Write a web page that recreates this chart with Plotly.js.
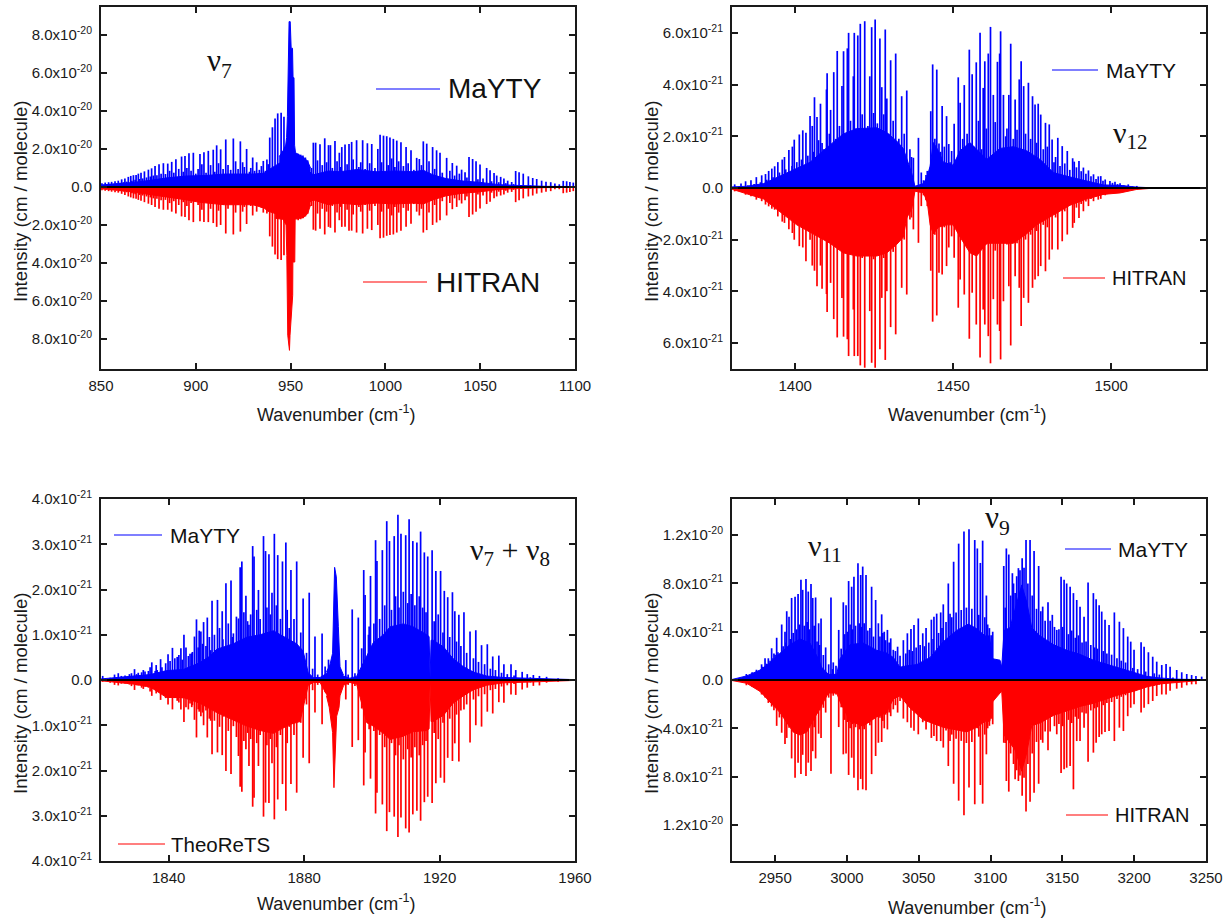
<!DOCTYPE html>
<html>
<head>
<meta charset="utf-8">
<script src="https://cdn.plot.ly/plotly-3.0.1.min.js"></script>
<style>body{margin:0;background:#fff}</style>
</head>
<body>
<div id="graph" style="width:1230px;height:919px"></div>
<script>
// nu7 band, intensities in 1e-20 cm/molecule
var nu7X = [850.5,852.2,854,855.6,857.4,859.1,860.9,862.6,864.4,865.7,
  867.1,868.5,869.7,871.1,872.9,875,876.7,878.5,880.6,882.9,
  885.2,887.3,889.5,892.5,894.3,896.4,898.7,902.2,904.3,906.6,
  909.2,911,913.1,915.8,919.8,923.5,926.8,930,932.1,935.6,
  937.5,939,940.4,941.8,943.2,945,946.5,
  962,963.2,965.5,968,970,971,973.4,975.7,
  977,978.7,980.8,982.2,984.8,988,990.5,992.8,996,997.2,
  999,1000.7,1002.4,1004.2,1006,1008.2,1010.9,1013.5,1016.5,1017.9,
  1020,1021.8,1024.9,1027,1028.8,1032.3,1035.3,1037.6,1040.2,1042,
  1044.1,1046,1047.8,1049.9,1053.4,1055.2,1057.3,1058.7,1060.8,1062.5,
  1064.5,1066.6,1068.7,1070.5,1072.7,1075.4,1077.7,1079.8,1082.4,1084.7,
  1087.2,1089.4,1091.7,1093.8,1095.6,1097.3,1099.1];
var nu7Mayty = [.2,.23,.25,.27,.3,.33,.4,.45,.53,.58,
  .62,.63,.7,.75,.82,.91,.98,1.1,1.2,1.25,
  1.23,1.32,1.46,1.6,1.63,1.77,1.8,1.74,1.82,1.9,
  1.96,2.19,1.98,2.5,2.55,2.4,2.0,1.55,1.3,1.37,
  1.45,2.6,3.14,3.6,3.87,3.9,3.7,
  2.33,2.33,2.25,2.56,2.2,2.2,2.42,1.8,
  2.1,2.23,2.26,2.37,2.46,2.46,2.3,2.26,2.0,2.75,
  2.7,2.67,2.6,2.53,2.44,2.35,2.1,1.93,1.53,1.47,
  2.4,2.28,2.1,1.93,1.8,1.53,1.26,1.12,.91,.77,
  1.58,1.47,1.35,1.18,1,.88,.74,.6,.53,.44,
  .33,.26,.84,.77,.7,.56,.47,.42,.33,.28,
  .25,.18,.14,.32,.3,.26,.23];
var nu7Hitran = [.17,.2,.22,.25,.28,.3,.36,.42,.5,.55,
  .6,.62,.68,.72,.8,.88,.95,1.05,1.15,1.2,
  1.2,1.3,1.4,1.55,1.58,1.75,1.85,1.8,1.85,1.85,
  1.9,2.1,2.0,2.45,2.5,2.35,1.95,1.5,1.3,1.35,
  1.4,2.6,3.14,3.55,3.8,3.84,3.6,
  2.25,2.3,2.2,2.5,2.1,2.15,2.4,1.75,
  2.1,2.1,2.3,2.3,2.4,2.45,2.2,2.27,2,2.7,
  2.67,2.57,2.53,2.5,2.4,2.3,2.1,1.93,1.3,1.5,
  2.4,2.27,2,1.87,1.75,1.5,1.17,1.05,.87,.7,
  1.58,1.45,1.3,1.13,.9,.78,.6,.5,.45,.4,
  .3,.26,.8,.7,.6,.5,.45,.35,.3,.25,
  .22,.12,.12,.33,.3,.26,.22];
var nu7TeethX = [851.5,853,854.8,856.5,858.3,860,861.8,863.5,866.3,868,
  870.3,872,874,876,877.6,879.5,881.7,884,886.2,888.4,
  891,893.4,895.3,897.5,900,901.2,903.2,905.4,907.8,910,
  912,914.4,917,918.4,921,922.3,924.7,925.6,928.3,929,
  931,933.5,934.6,936.7,938.2,
  954,955.3,956.5,957.8,959,961,964.2,966.7,969,972,
  974.5,976.4,979.8,983,986,987,989.3,991.7,994.5,998,
  1001.5,1003.3,1005,1007,1009.5,1012,1015,1019,1023,1026,
  1030,1034,1036.5,1039,1043,1048.8,1051.5,1056,1059.8,1063.5,
  1067.6,1071.6,1076.5,1081];
var nu7Teeth = [.13,.15,.17,.18,.2,.22,.25,.28,.33,.38,
  .42,.45,.5,.55,.6,.62,.7,.68,.85,.75,
  .95,.8,1,.85,.7,.95,1.2,.75,1.15,.8,
  1.25,.95,1.15,.9,1.35,.95,1.3,1.05,.8,1.0,
  .85,.9,1.1,.85,1.2,
  1.75,1.7,1.65,1.55,1.4,1.0,1.4,1.15,1.3,1.0,
  1.35,1.05,1.2,1.45,1.05,1.3,.95,1.25,1.0,1.3,
  1.15,1.5,1.05,1.35,1.1,1.25,.9,1.15,1.35,.95,
  .75,.85,.6,.7,.5,.4,.45,.3,.25,.2,
  .15,.1,.08,.05];
var nu7BulkUpX = [850,860,867,875,885,895,905,915,925,930,936,938,942,946,960,962,970,976,985,995,1005,1015,1020,1025,1032,1040,1050,1060,1070,1085,1100];
var nu7BulkUp = [.12,.2,.3,.42,.6,.72,.75,.85,.85,.85,.9,1.1,1.4,1.7,1,.8,1.05,1,1.15,1,1.05,1,1.1,.8,.55,.4,.3,.15,.1,.04,.03];
var nu7BulkDownX = [850,860,867,875,885,895,902,915,925,930,936,938,942,946,960,962,970,976,985,995,1005,1015,1020,1025,1032,1040,1050,1060,1070,1085,1100];
var nu7BulkDown = [.1,.2,.32,.45,.65,.8,.95,1.1,1.1,1.1,1.3,1.5,1.65,1.7,.95,.8,1.1,1,1.1,1,1.05,1,1.05,.8,.55,.4,.3,.15,.1,.04,.03];
// Q branch of nu7
var nu7QUpX = [944,946,947.4,947.9,948.3,948.8,949.2,949.8,950.3,951,951.3,951.8,952.1,952.6,955,957,959,960.5];
var nu7QUp = [1.6,1.9,2.2,2.6,3.7,7.7,8.7,8.7,7.3,7.3,5.75,5.75,2.2,1.8,1.65,1.55,1.35,1];
var nu7QDownX = [942,946,947.6,948,948.5,949,949.4,949.7,951.1,951.2,952.2,952.4,955,957,959,960.5];
var nu7QDown = [1.65,1.7,2,3.6,7.8,8.2,8.6,7.8,5.7,3.95,3.95,1.7,1.65,1.6,1.4,.95];

// nu12 band, intensities in 1e-21 cm/molecule
var nu12X = [1380.85,1382.85,1384.3,1386,1387.7,1389.4,1390.6,1391.6,1392.6,1393.5,
  1394.5,1395.9,1396.6,1398,1399.1,1399.7,1401.3,1402.4,1403.4,1404.7,
  1405.4,1406.1,1406.9,1408,1408.5,1409.9,1410.1,1411.2,1412.2,1413.3,
  1414.8,1415.3,1416.5,1416.9,1418.4,1418.7,1419.8,1420.6,1422,1423.6,
  1424.2,1425.3,1426.8,1427.4,1428.5,1429,1430.2,1431.8,1433.7,1435.3,
  1436.3,1437.4,1439,1439.9,1441.8,1442.9,1443.5,1444.8,1445.5,1446.5,
  1447.9,1448.6,1449.5,1450.3,1451.6,1452.2,1453.5,1455.1,1456,1457.3,
  1458.5,1459.5,1460,1461.1,1461.8,1462.7,1464,1464.7,1465,1465.9,
  1467.6,1468.2,1469.6,1470.9,1471.5,1472.3,1473.8,1475.1,1475.9,1476.9,
  1477.7,1479.2,1480.4,1481.3,1483.1,1484.5,1486.1,1487.8,1488.3,1489.8,
  1491.2,1492.8,1494.4,1495.9,1496.7,1498.1,1499.6,1501.2,1502.8,1505.4,
  1508.1,1511.2];
var nu12Mayty = [.14,.17,.26,.3,.42,.49,.54,.66,.75,.84,
  1,1.1,1.2,1.47,1.6,1.87,2.07,2.23,2.14,2.78,
  2.4,3.51,2.75,3.26,1.74,3.81,4.44,3.02,4.48,5.3,
  3.94,5.29,5.4,6,4.32,6,5.9,6.35,6.45,4.32,
  6.22,6.52,5.78,3.9,6.13,3.46,4.94,5.2,3.55,3.77,
  1.5,1.17,1.94,.6,.66,2.97,4.78,4.58,1.72,3.17,
  2.78,1.7,1.43,2.48,4.28,3.3,3.98,5.35,4.4,4.86,
  6,3.87,4.9,5.2,6.23,3.6,4.88,5.2,6.06,3.6,
  3.6,5.58,3.42,4.2,4.9,3.94,4.07,3.55,3.23,3.26,
  2.84,2.52,2.46,1.88,1.94,1.62,1.43,1.15,1.02,1.04,
  .79,.68,.53,.45,.46,.33,.27,.24,.18,.14,
  .08,.04];
var nu12Hitran = [.13,.15,.26,.32,.45,.51,.64,.71,.8,.84,
  1.1,1.3,1.35,1.6,1.74,2,2.25,2.3,2.83,2,
  3,3.2,3.8,3,3.9,4.1,4.8,3.67,5.07,5.78,
  4.25,5.75,5.85,6.5,4.7,6.5,6.5,6.86,6.95,4.76,
  6.76,6.95,6.24,4.25,6.65,3.99,5.38,5.66,3.86,4.12,
  1.22,1.6,2.12,.7,.7,3.2,5.17,4.93,3.28,3.35,
  3.02,2.3,1.87,2.7,4.63,3.54,4.12,5.83,4.05,5.28,
  6.56,4.7,5.28,5.73,6.78,4.3,5.28,5.53,6.63,4.38,
  3.8,6.09,3.41,3.86,5.34,4.25,4.44,3.86,3.54,3.41,
  3.02,3.22,2.77,2.38,2.38,2.06,1.8,1.54,1.35,1.16,
  .9,.7,.51,.45,.42,.28,.19,.17,.13,.09,
  .06,.03];
var nu12TeethX = [1385,1387,1389,1391,1393,1395,1397,1399,1400.5,1402,
  1404,1405.8,1407.4,1409,1410.8,1412.8,1414,1415.8,1417.5,1419.2,
  1421.2,1423,1424.8,1426,1428,1429.6,1431,1432.8,1434.5,1436.8,
  1440.6,1441.4,1443,1444.2,1446,1447.2,1449,1451,1453,1454.4,
  1456.6,1458,1459,1460.5,1463.3,1466.6,1467,1469,1470.2,1472.9,
  1474.5,1476.4,1478.5,1479.8,1481.9,1482.4,1483.8,1485.3,1486.9,1489,
  1490.5,1492,1493.6,1495.2,1497.4,1500.4,1502,1504,1506.7];
var nu12Teeth = [.1,.15,.22,.32,.42,.6,.72,.85,1.0,1.1,
  1.25,1.4,1.85,1.5,2.1,1.9,2.4,2.0,2.6,2.3,
  2.85,2.4,2.9,2.5,2.85,2.1,2.6,1.9,2.1,1.2,
  .3,.5,1.1,1.9,1.4,1.6,1.0,1.1,1.9,2.1,
  1.6,2.6,1.5,2.3,2.55,2.0,2.3,1.9,2.25,2.1,
  1.9,1.75,1.5,1.6,1.0,1.2,.85,.95,.7,.8,
  .65,.55,.45,.35,.28,.2,.15,.1,.07];
var nu12BulkUpX = [1380,1384.6,1390,1395.2,1400.5,1404.7,1408.9,1412,1415.2,1419.5,1425.8,1429,1432.1,1434.2,1435.3,1436.9,1437.9,1439,1440.6,1441.8,1442.7,1443.7,1445.3,1446.9,1450,1452.2,1455.3,1460.6,1464.8,1469,1473.2,1477.5,1481.7,1487,1492.2,1497.5,1502.8,1508,1513,1530];
var nu12BulkUp = [.05,.08,.2,.53,.9,1.17,1.7,2.07,2.46,2.7,2.74,2.52,2.14,1.8,1.3,.66,.08,.12,.2,.53,1,2.07,1.7,1.17,1.04,1.7,2.07,1.3,1.8,1.88,1.7,1.3,.7,.5,.33,.14,.12,.04,.01,0];
var nu12BulkDownX = [1380,1390,1395.2,1400.5,1405.7,1411,1415.2,1419.5,1425.8,1429,1432.1,1434.2,1435.3,1436.9,1437.9,1440.6,1441.8,1442.7,1443.7,1445.3,1447.9,1450,1452.2,1455.3,1457.4,1460.6,1469,1473.2,1476.4,1481.7,1487,1492.2,1497.5,1502.8,1508,1513,1530];
var nu12BulkDown = [.05,.45,.97,1.5,1.87,2.25,2.64,2.77,2.77,2.64,2.3,2,1.22,.84,.13,.2,.58,1.5,1.87,1.6,1.5,1.5,2,2.64,2.77,2.25,2.25,1.87,1.5,1.1,.7,.45,.26,.2,.06,.01,0];

// nu7+nu8 band, intensities in 1e-21 cm/molecule
var combX = [1820.5,1822.7,1825.1,1827.1,1828.4,1829.9,1831,1832,1833,1834,
  1835,1836,1836.6,1837.6,1838.4,1839.1,1839.8,1841.1,1841.8,1842.5,
  1843.6,1844.5,1845.1,1845.8,1846.8,1847.6,1848.2,1849,1849.5,1850.3,
  1851.4,1852.4,1852.8,1854.4,1855.8,1856.9,1858.4,1859.1,1860.6,1861.1,
  1861.6,1862.8,1863.7,1864.8,1865.2,1866.5,1868,1868.6,1869.6,1870.5,
  1871.2,1872.2,1873.6,1874.6,1876.1,1877.8,1879.7,1881.5,1883.2,1885.3,
  1892.3,1894.2,1896,1897.6,1898,1899.2,1899.6,1901.1,1901.5,1903.1,
  1904.4,1905.2,1906.6,1907.7,1908.6,1910,1911,1912.1,1913.3,1914.4,
  1915.5,1916.5,1917.8,1918.9,1920.3,1921.4,1922.4,1923.8,1924.5,1925.7,
  1927.2,1929,1930.7,1932.4,1934.1,1935.7,1937.5,1939,1941.1,1942.5,
  1944.4,1945.9,1947.7,1949.5,1951.6,1955];
var combMayty = [.09,.05,.15,.1,.13,.24,.16,.17,.19,.2,
  .39,.2,.22,.46,.15,.37,.57,.71,.48,.51,
  .7,1,.72,.53,.59,.96,1.34,1.09,1.07,1.28,
  1.38,.66,1.75,1.77,1.52,2.14,2.2,1.03,1.36,2.49,
  2.62,1.86,1.22,2.96,2.73,1.99,3.18,2.85,2.78,1.93,
  3.23,2.76,2.62,3.04,2.43,2.62,1.8,1.93,.96,1.03,
  .44,1.56,1.38,2.43,1.88,1.18,2.3,3.09,2.63,2.87,
  3.51,3.07,3.18,3.65,3.23,3.2,3.55,3.07,3.04,3.28,
  2.82,2.73,2.87,2.41,2.41,1.97,1.83,1.94,1.52,1.44,
  1.5,1.07,1.1,.77,.79,.52,.54,.35,.35,.22,
  .18,.13,.11,.09,.07,.04];
var combTheoreTS = [.04,.06,.12,.08,.1,.22,.12,.17,.15,.17,
  .35,.2,.24,.44,.3,.4,.54,.65,.4,.46,
  .65,.93,.6,.65,.6,.88,1.27,.7,.8,1,
  1.27,.9,1.64,1.6,1.66,2.01,2.08,1.02,1.68,2.36,
  2.47,1.53,1.9,2.8,2.6,1.9,3.02,2.71,2.72,1.84,
  3.08,2.64,2.3,2.89,2.3,2.49,1.72,1.84,.72,.98,
  .43,1.48,1.33,2.33,1.6,1.09,2.18,2.95,2.49,2.75,
  3.34,2.92,3.02,3.47,3.04,3.28,3.37,2.97,2.89,3.11,
  2.7,2.58,2.72,2.28,2.16,2.27,1.72,1.79,1.4,1.8,
  .65,1.38,1,1.03,.7,.74,.49,.5,.32,.33,
  .21,.17,.13,.12,.06,.04];
var combTeethX = [1824,1826,1829,1830.5,1832.5,1834.5,1836.3,1838,1840.4,1843,
  1844,1846.3,1847,1848.7,1850,1851,1852,1853.5,1855,1856,
  1857.6,1858.8,1860,1862.2,1863.3,1864.2,1866,1867,1869,1870,
  1871.8,1873,1875,1875.6,1877,1879,1880.7,1882.5,1884,1886.2,
  1887.2,1891,1893,1895,1897,1899,1900.6,1902.3,1903.8,1905.8,
  1907,1908,1909.3,1910.6,1911.6,1912.7,1914,1915,1916,1918.4,
  1919.6,1921,1923,1925,1926.3,1928,1930,1931.5,1933.3,1935,
  1936.5,1938.3,1940,1942,1946.8];
var combTeeth = [.12,.09,.15,.13,.22,.28,.33,.28,.42,.55,
  .45,.58,.62,.72,.8,.75,.95,1,1.15,.9,
  1.25,.95,1.4,1.5,1.3,1.45,1.55,1.35,1.6,1.45,
  1.65,1.35,1.55,1.15,1.35,1.05,.6,.25,.12,.3,
  .45,.18,.12,.15,.7,1.0,1.25,1.35,1.65,1.55,
  1.85,1.6,1.95,1.7,1.9,1.65,1.85,1.6,1.5,1.3,
  1.45,1.05,.95,.85,.75,.6,.48,.4,.35,.25,
  .22,.16,.13,.1,.06];
var combBulkUpX = [1820,1824.6,1829.5,1834.5,1839.4,1844.3,1849.2,1852.2,1854.2,1859.1,1863,1867,1870.9,1875.8,1877.8,1879.7,1881.2,1882.7,1884.7,1886.6,1891.6,1893.5,1895.5,1898.5,1900.4,1903.4,1905.4,1909.3,1912.2,1916.2,1916.9,1917.2,1917.5,1918.1,1921.1,1924,1927,1930,1933.9,1938.8,1946.7,1956.5,1960];
var combBulkUp = [.03,.07,.11,.15,.26,.29,.48,.66,.85,1,1.18,1.25,1.36,1.1,1,.8,.2,.07,.07,.18,.11,.05,.1,.66,1.03,1.25,1.47,1.55,1.47,1.25,1.2,.07,1.1,1.1,.92,.59,.37,.22,.11,.07,.04,.02,.01];
var combBulkDownX = [1820,1829.5,1834.5,1839.4,1844.3,1849.2,1854.2,1859.1,1863,1867,1870.9,1875.8,1878.8,1881.2,1882.7,1884.7,1886.6,1891.6,1893.5,1895.5,1898.5,1900.4,1903.4,1905.4,1909.3,1912.2,1916.2,1916.9,1917.2,1917.5,1918.1,1921.1,1924,1927,1930,1933.9,1938.8,1946.7,1956.5,1960];
var combBulkDown = [.02,.1,.17,.43,.43,.57,.8,.98,1.13,1.24,1.31,1.09,1.02,.13,.06,.06,.35,.13,.06,.1,1.05,1.13,1.31,1.46,1.38,1.27,1.24,1.2,.1,1.02,1.02,.87,.57,.39,.24,.13,.07,.05,.02,.01];
// Q branch of nu7+nu8
var combQUpX = [1886.6,1887.6,1888.4,1888.8,1889,1889.5,1889.8,1890.1,1890.6,1891.6];
var combQUp = [.18,.33,.59,1.8,2.49,2.28,1.47,1.18,.29,.11];
var combQDownX = [1886.6,1887.4,1888.4,1888.8,1889.6,1890.3,1890.6,1891.6];
var combQDown = [.35,.6,1.16,2.38,.8,.61,.35,.13];

// nu11 / nu9 bands, intensities in 1e-21 cm/molecule
var ch3X = [2940.6,2943,2945.3,2947.6,2949.2,2951.1,2953,2954.6,2956.9,2958.1,
  2959.7,2961.5,2963.9,2966,2968,2969.2,2971.5,2973.1,2975,2976.2,
  2978.2,2980.3,2982,2983.6,2985.2,2987.3,2988.9,2990.5,2992.4,2994.3,
  2997.5,2999.4,3001.2,3003.3,3004.9,3007.7,3009.6,3011,3013.3,3017.2,
  3020,3021.9,3024.2,3026,3028.2,3030.5,3032.3,3035.3,3039.3,3042.1,
  3044.6,3046.7,3049.7,3052.8,3055.1,3058.8,3060.6,3062.5,3065.3,3067.1,
  3070.6,3071.8,3074.3,3077.8,3081.5,3085,3089,3090.8,3092.9,3094.5,
  3097.1,3099.2,3101.5,3109.2,3111,3112.7,3115.2,3117.1,3119.4,3122,
  3124.7,3127.5,3130.3,3133.5,3136.3,3140,3143,3146.1,3149.1,3151.2,
  3153,3155.4,3157.7,3160,3162.3,3165.1,3167.9,3171.6,3173.5,3175.6,
  3177.4,3179.7,3182.5,3186.2,3189.7,3192.5,3195.5,3197.6,3199.9,3204.8,
  3206.9,3209.9,3212.9,3215.7,3219.2,3222.2,3225,3229.6,3233.1,3236.6,
  3240,3243,3247];
var ch3Mayty = [1.3,1.8,1.8,2.63,2.2,3.5,1.8,4.6,4,5.7,
  5.25,6.8,6.9,7.13,8.3,7.47,8.38,7.33,7.95,6.8,
  6.84,4.7,5.1,2.07,2.7,1.3,6.84,1.46,1.18,4.15,
  6.44,6.2,8.2,7.73,8.56,9.67,8.7,9.4,8.7,7.73,
  6.63,4.7,5.44,4,4.15,3.45,2.5,2.76,3.3,3.87,
  4.23,4.56,5.1,3.87,4.3,5,5.25,5.5,5.6,6.27,
  8,5.5,9.8,11.3,12.3,12.5,11.6,10.9,9.7,11.55,
  7,4.3,4,9.45,10.9,10.4,8.85,7.2,9.27,10.1,
  11.6,11.6,10.7,9.45,6.08,6.44,5.4,4.15,8.56,8.3,
  8,7.73,7.2,6.63,6.08,5.25,8.07,7.2,6.7,6.2,
  5.67,5,4.56,5.6,4.83,4.3,3.6,3.18,2.5,3.12,
  2.76,2.3,1.93,1.52,1.24,1.33,1.1,.83,.64,.5,
  .41,.33,.28];
var ch3Hitran = [1.2,1.46,1.9,2.2,2.5,3.8,3.1,4.37,5.3,4.8,
  3.95,6.5,8.1,6.85,7.8,6.2,7.95,6.85,7.54,5.9,
  6.5,4.45,4.8,2.3,2.7,1.46,7.76,1.3,1.2,3.9,
  6.16,6.1,7.87,6.44,8.1,9.14,8.2,9.06,9.14,7.8,
  6.3,5.2,5.14,4,4.1,3,2.43,2.7,3.2,3.5,
  3.95,4.2,4.5,3.5,4.1,4.8,4.64,5.06,5.06,5.6,
  7.13,5.06,8.6,10,11.2,8.9,10.3,4,8.7,10.25,
  6.16,3.8,3.67,5.2,8.37,9.25,4.8,8.23,8.37,9.6,
  10.9,10.1,9.34,8.6,5.2,5.83,3,4.5,7.7,7.4,
  7.27,7.13,9.06,5.06,5.06,3.95,6.77,6.02,5.2,4.72,
  4.5,4.3,4.23,5.06,3.95,4.23,3,2.3,2,2.7,
  2.3,2,1.74,1.33,1.2,1.2,.9,.72,.64,.44,
  .36,.36,0];
var ch3TeethX = [2930,2934,2937,2941.5,2944,2946.5,2948.5,2950,2952,2955.6,
  2957.6,2960.5,2962.6,2965,2967,2970.3,2972.3,2974,2977.2,2979.2,
  2981,2990,2996,2998.5,3000.3,3002.2,3004,3006,3008.6,3010.3,
  3012,3014.5,3016,3018.5,3023,3025,3027,3029.4,3033.8,3037,
  3041,3043.4,3045.6,3048.2,3051,3054,3057,3060,3063.8,3066.2,
  3069,3073,3076,3079.6,3083.2,3087,3091.8,3096,3098,3100.4,
  3110.2,3114,3116,3118.2,3120.5,3123.3,3126,3129,3132,3135,
  3138,3141.5,3144.5,3147.6,3150.2,3154.2,3156.5,3159,3161.2,3163.7,
  3166.5,3169.8,3172.5,3174.5,3178.5,3181,3184.3,3188,3191,3194,
  3199,3202.4,3208,3214,3217.5,3227];
var ch3Teeth = [.5,.65,.85,1.1,1.35,1.6,1.8,2.1,2.3,2.8,
  3.1,3.4,3.9,4.2,4.6,4.5,4.8,4.2,4.5,3.2,
  2.9,.9,2.6,3.8,4,4.6,4.2,4.5,4.7,4.4,
  4.7,4.1,4.3,3.6,3.6,3.9,3.3,3.1,2.4,2.0,
  2.2,2.5,2.4,2.7,2.9,2.8,3.1,3.4,3.9,4.3,
  4.8,5.2,5.6,5.8,6,5.9,5.4,5.2,4.6,3.7,
  6,7,8,8.6,9.1,9.3,8,7,5.9,5.7,
  4.9,4.9,4.4,4.2,4.4,3.8,4.1,3.5,3.7,3.1,
  3.2,2.9,2.7,2.6,2.4,2.2,2.1,1.8,1.6,1.45,
  1,.9,.7,.55,.45,.2];
var ch3BulkUpX = [2920,2930.2,2939.5,2946.4,2953.4,2960.4,2967.3,2974.3,2980.1,2982.4,2987.1,2992.9,2995.2,3002.2,3011.4,3020.7,3027.7,3032.3,3037,3041.6,3048.6,3057.9,3067.1,3076.4,3084.6,3090.4,3096.2,3099.2,3101.5,3106.6,3107.8,3109.4,3113.6,3117.1,3121.7,3125.2,3128.7,3134.5,3143.8,3153,3162.3,3171.6,3180.9,3190.2,3199.5,3208.7,3218,3229.6,3250];
var ch3BulkUp = [.05,.4,.97,1.66,2.6,3.45,4,3.6,2.07,1.25,.55,.55,2.07,3.45,3.6,2.9,2.63,2.2,1.25,1.38,1.5,2.2,3.73,4.83,5.45,5,4.3,4.3,2.07,1.93,1.25,4.83,5.1,7,9.27,7.6,5.1,4.3,3.45,2.9,2.5,1.93,1.52,1.1,.7,.36,.2,.08,.03];
var ch3BulkDownX = [2920,2930.2,2939.5,2946.4,2953.4,2962.7,2967.3,2972,2980.1,2983.6,2987.1,2992.9,2995.2,3002.2,3011.4,3020.7,3027.7,3032.3,3037,3043.9,3053.2,3067.1,3076.4,3083.4,3090.4,3096.2,3099.5,3101.5,3106.6,3107.8,3109.4,3117.1,3121.7,3125.2,3128.7,3134.5,3143.8,3153,3162.3,3171.6,3180.9,3190.2,3199.5,3208.7,3218,3229.6,3243];
var ch3BulkDown = [.05,.3,1.05,2,3,4.8,5.06,4.8,2.85,2,1.2,1.2,2,3.8,4.23,3.4,3,1.74,1.46,2.57,3.67,4.36,4.64,4.78,4.36,3.8,3.8,2,1.2,1.05,5.06,6.44,8.4,6.7,4.2,3.95,3.26,2.85,2.43,2.15,1.74,1.33,1.05,.64,.36,.22,.08];

var blue = 'rgb(0,0,255)', red = 'rgb(255,0,0)', ink = '#1a1a1a';
var sans = 'Liberation Sans, Arial, sans-serif', serif = 'Liberation Serif, Times New Roman, serif';
var W = 1230, H = 919;

function scaled(y, f) {
  return y.map(function(v) { return v * f; });
}
function sticks(x, y, sign, color, n, w) {
  var xs = [], ys = [];
  for (var i = 0; i < x.length; i++) {
    xs.push(x[i], x[i], null);
    ys.push(0, sign * y[i], null);
  }
  return {x: xs, y: ys, mode: 'lines', type: 'scatter', line: {color: color, width: w || 1.7},
    hoverinfo: 'skip', showlegend: false, xaxis: 'x' + n, yaxis: 'y' + n};
}
function bulk(x, y, sign, color, n) {
  return {x: x, y: scaled(y, sign), mode: 'lines', type: 'scatter', fill: 'tozeroy',
    fillcolor: color, line: {color: color, width: 1}, hoverinfo: 'skip', showlegend: false,
    xaxis: 'x' + n, yaxis: 'y' + n};
}
function baseline(r, n) {
  return {x: r, y: [0, 0], mode: 'lines', type: 'scatter', line: {color: '#000', width: 2},
    hoverinfo: 'skip', showlegend: false, xaxis: 'x' + n, yaxis: 'y' + n};
}
function ticks(vals, exps) {
  // tick labels like 8.0x10^-20, mirrored around zero
  var tv = [], tt = [];
  vals.forEach(function(v) {
    tv.push(v[0]); tt.push(v[0] === 0 ? '0.0' : v[1] + 'x10<sup>' + exps + '</sup>');
  });
  return {tv: tv, tt: tt};
}

var panels = [
  {n: 1, box: [101, 575, 7, 369], xr: [850, 1100], yr: [-9.58, 9.47], xt: [850,900,950,1000,1050,1100],
   yt: [[-8,'8.0'],[-6,'6.0'],[-4,'4.0'],[-2,'2.0'],[0,'0'],[2,'2.0'],[4,'4.0'],[6,'6.0'],[8,'8.0']], exp: '-20',
   x: nu7X, a: nu7Mayty, b: nu7Hitran, ax: nu7BulkUpX, ay: nu7BulkUp, bx: nu7BulkDownX, by: nu7BulkDown,
   tx: nu7TeethX, ty: nu7Teeth, fu: .8, fd: .85, td: 1, qux: nu7QUpX, quy: nu7QUp, qdx: nu7QDownX, qdy: nu7QDown},
  {n: 2, box: [732, 1206, 7, 369], xr: [1380, 1530], yr: [-7, 7], xt: [1400,1450,1500],
   yt: [[-6,'6.0'],[-4,'4.0'],[-2,'2.0'],[0,'0'],[2,'2.0'],[4,'4.0'],[6,'6.0']], exp: '-21',
   x: nu12X, a: nu12Mayty, b: nu12Hitran, ax: nu12BulkUpX, ay: nu12BulkUp, bx: nu12BulkDownX, by: nu12BulkDown,
   tx: nu12TeethX, ty: nu12Teeth, fu: .85, fd: .95, td: .95},
  {n: 3, box: [101, 575, 499, 861], xr: [1820, 1960], yr: [-4, 4], xt: [1840,1880,1920,1960],
   yt: [[-4,'4.0'],[-3,'3.0'],[-2,'2.0'],[-1,'1.0'],[0,'0'],[1,'1.0'],[2,'2.0'],[3,'3.0'],[4,'4.0']], exp: '-21',
   x: combX, a: combMayty, b: combTheoreTS, ax: combBulkUpX, ay: combBulkUp, bx: combBulkDownX, by: combBulkDown,
   tx: combTeethX, ty: combTeeth, fu: .8, fd: .9, td: .9, qux: combQUpX, quy: combQUp, qdx: combQDownX, qdy: combQDown},
  {n: 4, box: [732, 1206, 499, 861], xr: [2920, 3250], yr: [-15, 15], xt: [2950,3000,3050,3100,3150,3200,3250],
   yt: [[-12,'1.2'],[-8,'8.0'],[-4,'4.0'],[0,'0'],[4,'4.0'],[8,'8.0'],[12,'1.2']], exp: '-21',
   x: ch3X, a: ch3Mayty, b: ch3Hitran, ax: ch3BulkUpX, ay: ch3BulkUp, bx: ch3BulkDownX, by: ch3BulkDown,
   tx: ch3TeethX, ty: ch3Teeth, fu: .85, fd: .9, td: .87}
];

var data = [];
var layout = {width: W, height: H, margin: {l: 0, r: 0, t: 0, b: 0}, paper_bgcolor: '#fff', plot_bgcolor: '#fff',
  showlegend: false, annotations: [], shapes: [], font: {family: sans, color: ink}};

panels.forEach(function(p) {
  var s = p.n === 1 ? '' : p.n;
  var t = ticks(p.yt, p.exp);
  // the 1.2 ticks of the last panel are in 1e-20, not 1e-21
  if (p.n === 4) t.tt = t.tt.map(function(l) { return l.indexOf('1.2') === 0 ? '1.2x10<sup>-20</sup>' : l; });
  data.push(bulk(p.ax, scaled(p.ay, p.fu), 1, blue, s), sticks(p.tx, p.ty, 1, blue, s), sticks(p.x, p.a, 1, blue, s));
  data.push(bulk(p.bx, scaled(p.by, p.fd), -1, red, s), sticks(p.tx, scaled(p.ty, p.td), -1, red, s), sticks(p.x, p.b, -1, red, s));
  if (p.qux) data.push(bulk(p.qux, p.quy, 1, blue, s), bulk(p.qdx, p.qdy, -1, red, s));
  data.push(baseline(p.xr, s));
  layout['xaxis' + s] = {domain: [p.box[0] / W, p.box[1] / W], range: p.xr, anchor: 'y' + s, tickvals: p.xt,
    ticks: 'inside', ticklen: 6, tickwidth: 1.5, tickcolor: ink, linecolor: ink, linewidth: 2, mirror: 'allticks',
    showgrid: false, zeroline: false, ticklabelstandoff: 2, tickfont: {family: sans, size: 15, color: ink}};
  layout['yaxis' + s] = {domain: [1 - p.box[3] / H, 1 - p.box[2] / H], range: p.yr, anchor: 'x' + s, tickvals: t.tv,
    ticktext: t.tt, ticks: 'inside', ticklen: 6, tickwidth: 1.5, tickcolor: ink, linecolor: ink, linewidth: 2,
    mirror: 'allticks', showgrid: false, zeroline: false, ticklabelstandoff: 4, tickfont: {family: sans, size: 15, color: ink}};
});

function label(text, px, py, size, family) {
  layout.annotations.push({text: text, xref: 'paper', yref: 'paper', x: px / W, y: 1 - py / H, xanchor: 'left',
    yanchor: 'middle', showarrow: false, font: {family: family || sans, size: size, color: '#111'}});
}
function axisLabel(text, px, py, angle, size) {
  layout.annotations.push({text: text, xref: 'paper', yref: 'paper', x: px / W, y: 1 - py / H, xanchor: 'center',
    yanchor: 'middle', textangle: angle, showarrow: false, font: {family: sans, size: size, color: ink}});
}
function key(color, x0, x1, py) {
  layout.shapes.push({type: 'line', xref: 'paper', yref: 'paper', x0: x0 / W, x1: x1 / W, y0: 1 - py / H,
    y1: 1 - py / H, line: {color: color, width: 1.2}});
}

var xName = 'Wavenumber (cm<sup>-1</sup>)', yName = 'Intensity (cm / molecule)';
axisLabel(xName, 336, 413, 0, 18); axisLabel(xName, 967, 413, 0, 18);
axisLabel(xName, 336, 902, 0, 18); axisLabel(xName, 967, 906, 0, 18);
axisLabel(yName, 20, 201, -90, 18.6); axisLabel(yName, 651, 201, -90, 18.6);
axisLabel(yName, 20, 693, -90, 18.6); axisLabel(yName, 651, 693, -90, 18.6);

key(blue, 376, 440, 89); label('MaYTY', 446, 89, 28);
key(red, 363, 427, 282); label('HITRAN', 434, 282, 28);
key(blue, 1052, 1098, 70); label('MaYTY', 1104, 70, 21);
key(red, 1063, 1105, 278); label('HITRAN', 1110, 278, 20);
key(blue, 114, 162, 535); label('MaYTY', 168, 535, 21);
key(red, 118, 165, 844); label('TheoReTS', 169, 844, 20.5);
key(blue, 1065, 1111, 549); label('MaYTY', 1116, 549, 21);
key(red, 1066, 1108, 815); label('HITRAN', 1113, 815, 20);

label('ν<sub>7</sub>', 205, 63, 31, serif);
label('ν<sub>12</sub>', 1111, 135, 30, serif);
label('ν<sub>7</sub> + ν<sub>8</sub>', 468, 552, 30, serif);
label('ν<sub>11</sub>', 806, 548, 30, serif);
label('ν<sub>9</sub>', 983, 520, 31, serif);

Plotly.newPlot('graph', data, layout, {displayModeBar: false, responsive: false});
</script>
</body>
</html>
